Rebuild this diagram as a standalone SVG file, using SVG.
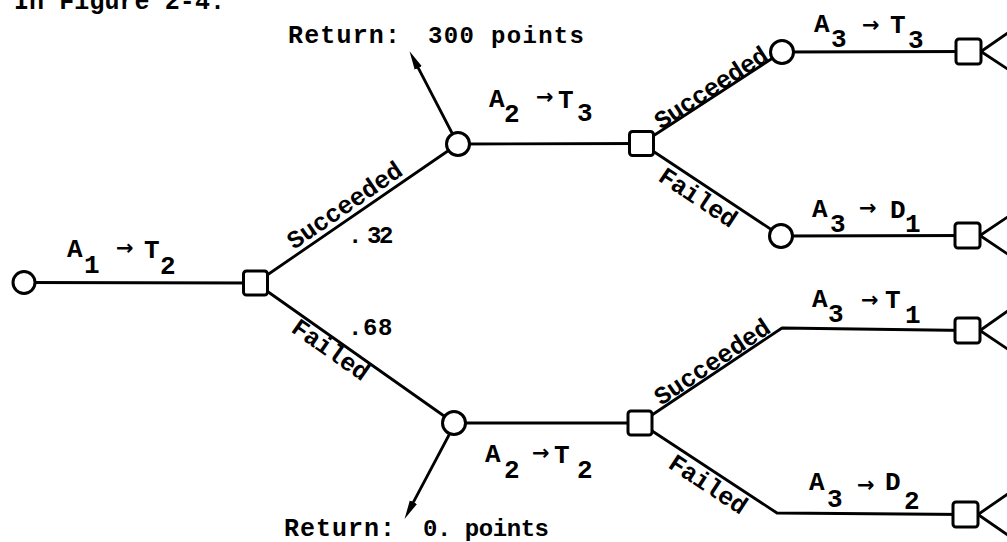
<svg xmlns="http://www.w3.org/2000/svg" width="1007" height="542" viewBox="0 0 1007 542">
<style>
.ln{stroke:#000;stroke-width:2.8;fill:none;stroke-linecap:round;stroke-linejoin:round}
.nd{fill:#fff;stroke:#000;stroke-width:3}
.b{font-family:"Liberation Mono","DejaVu Sans Mono",monospace;font-weight:bold;font-size:25px;fill:#000}
.r{font-family:"Liberation Mono","DejaVu Sans Mono",monospace;font-weight:bold;font-size:24px;fill:#000}
.lab{font-family:"Liberation Mono","DejaVu Sans Mono",monospace;font-weight:bold;font-size:26px;fill:#000}
.arr{font-family:"DejaVu Sans",sans-serif;font-weight:bold;font-size:21px}
</style>
<defs>
<marker id="ah" markerUnits="userSpaceOnUse" markerWidth="20" markerHeight="10" viewBox="0 -5 20 10" refX="8" refY="0" orient="auto">
<path d="M0,-4 L19,0 L0,4 z" fill="#000"/>
</marker>
</defs>
<rect width="1007" height="542" fill="#fff"/>
<text class="b" x="14" y="9" textLength="211" lengthAdjust="spacing">In Figure 2-4.</text>

<g id="connectors">
<line class="ln" x1="24" y1="282.5" x2="255.5" y2="283"/>
<line class="ln" x1="255.5" y1="283" x2="458" y2="144"/>
<line class="ln" x1="255.5" y1="283" x2="454" y2="423"/>
<line class="ln" x1="458" y1="144" x2="641.5" y2="143.5"/>
<line class="ln" x1="641.5" y1="143.5" x2="782" y2="52"/>
<line class="ln" x1="641.5" y1="143.5" x2="781" y2="236"/>
<line class="ln" x1="782" y1="52" x2="968" y2="51.5"/>
<line class="ln" x1="781" y1="236" x2="967.5" y2="235.5"/>
<line class="ln" x1="454" y1="423" x2="640" y2="423"/>
<polyline class="ln" points="640,423 782,328 967.5,330.5"/>
<polyline class="ln" points="640,423 777,513 965.5,514.5"/>
<line class="ln" x1="452" y1="133" x2="414.6" y2="60.9" marker-end="url(#ah)"/>
<line class="ln" x1="449" y1="435" x2="409.7" y2="509.2" marker-end="url(#ah)"/>
<polyline class="ln" points="1012,30 981,51.5 1012,72"/>
<polyline class="ln" points="1012,214 980,235.5 1012,257"/>
<polyline class="ln" points="1012,308 980,330.5 1012,352"/>
<polyline class="ln" points="1012,491 978,514.5 1012,538"/>
</g>

<g id="n0"><circle class="nd" cx="24" cy="282.5" r="11"/></g>
<g id="d1"><rect class="nd" x="243.5" y="271" width="24" height="24" rx="3"/></g>
<g id="c1"><circle class="nd" cx="458" cy="144" r="11.5"/></g>
<g id="c2"><circle class="nd" cx="454" cy="423" r="11.5"/></g>
<g id="d2"><rect class="nd" x="629.5" y="131.5" width="24" height="24" rx="3"/></g>
<g id="d3"><rect class="nd" x="628" y="411" width="24" height="24" rx="3"/></g>
<g id="c3"><circle class="nd" cx="782" cy="52" r="11.5"/></g>
<g id="c4"><circle class="nd" cx="781" cy="236" r="11.5"/></g>
<g id="d4"><rect class="nd" x="956" y="39" width="25" height="25" rx="3"/></g>
<g id="d5"><rect class="nd" x="955" y="223" width="25" height="25" rx="3"/></g>
<g id="d6"><rect class="nd" x="955" y="318" width="25" height="25" rx="3"/></g>
<g id="d7"><rect class="nd" x="953" y="502" width="25" height="25" rx="3"/></g>

<g id="labels">
<text class="lab" x="67 84 116 144 160" y="257 273 255 258 274">A1<tspan class="arr">→</tspan>T2</text>
<text class="lab" x="489 504 536 558 577" y="107 122 104 108 121">A2<tspan class="arr">→</tspan>T3</text>
<text class="lab" x="814 831 862 890 908" y="32 47 32 33 48">A3<tspan class="arr">→</tspan>T3</text>
<text class="lab" x="812 830 859 890 905" y="217 232 215 218 232">A3<tspan class="arr">→</tspan>D1</text>
<text class="lab" x="485 504 532 554 577" y="462 478 460 463 478">A2<tspan class="arr">→</tspan>T2</text>
<text class="lab" x="812 828 861 885 905" y="307 322 307 308 323">A3<tspan class="arr">→</tspan>T1</text>
<text class="lab" x="809 827 857 885 904" y="490 507 492 490 509">A3<tspan class="arr">→</tspan>D2</text>

<text class="r" x="348 367 379" y="243">.32</text>
<text class="r" x="348 363 378" y="335">.68</text>

<text class="b" x="288" y="43" textLength="112" lengthAdjust="spacing">Return:</text>
<text class="r" x="428" y="43" textLength="156" lengthAdjust="spacing">300 points</text>
<text class="b" x="284" y="536" textLength="111" lengthAdjust="spacing">Return:</text>
<text class="r" x="423" y="536" textLength="126" lengthAdjust="spacing">0. points</text>

<text class="b" transform="translate(294,250) rotate(-34.5)" textLength="134" lengthAdjust="spacing">Succeeded</text>
<text class="b" transform="translate(290,331) rotate(35.2)" textLength="88" lengthAdjust="spacing">Failed</text>
<text class="b" transform="translate(661,130) rotate(-33)" textLength="130" lengthAdjust="spacing">Succeeded</text>
<text class="b" transform="translate(657,180) rotate(33.5)" textLength="88" lengthAdjust="spacing">Failed</text>
<text class="b" transform="translate(661,406) rotate(-33.8)" textLength="134" lengthAdjust="spacing">Succeeded</text>
<text class="b" transform="translate(667,467) rotate(33.3)" textLength="88" lengthAdjust="spacing">Failed</text>
</g>
</svg>
